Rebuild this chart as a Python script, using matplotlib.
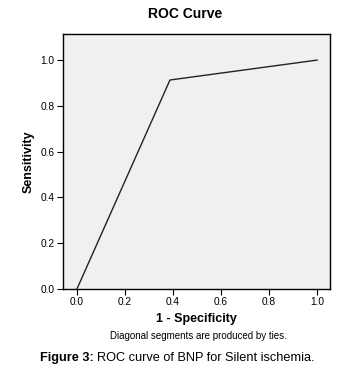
import matplotlib
matplotlib.use('Agg')
import matplotlib.pyplot as plt

plt.rcParams['font.family'] = ['Liberation Sans', 'DejaVu Sans']

# ROC points (1 - specificity, sensitivity)
fpr = [0.0, 0.3875, 1.0]
tpr = [0.0, 0.913, 1.0]
ticks = [0.0, 0.2, 0.4, 0.6, 0.8, 1.0]

fig = plt.figure(figsize=(3.54, 3.68), dpi=100)
W, H = 354, 368
ax = fig.add_axes([63 / W, 1 - 289 / H, 267 / W, 255 / H])
ax.set_facecolor('#f0f0f0')
ax.plot(fpr, tpr, color='#222222', lw=1.0)

ax.set_xlim(-0.058, 1.054)
ax.set_ylim(0, 1.114)
ax.set_xticks(ticks)
ax.set_yticks(ticks)
ax.set_xticklabels([f'{t:.1f}' for t in ticks])
ax.set_yticklabels([f'{t:.1f}' for t in ticks])
ax.tick_params(direction='out', length=4, width=0.8, labelsize=7.3, pad=2)
for s in ax.spines.values():
    s.set_linewidth(1.0)

ax.set_xlabel('1 - Specificity', fontsize=9, fontweight='bold', labelpad=4)
ax.set_ylabel('Sensitivity', fontsize=9, fontweight='bold', labelpad=4)
fig.text(185 / W, 1 - 14 / H, 'ROC Curve', fontsize=10, fontweight='bold',
         ha='center', va='center')
fig.text(198 / W, 1 - 336 / H, 'Diagonal segments are produced by ties.',
         fontsize=7, ha='center', va='center')

# caption with bold prefix
t1 = fig.text(40 / W, 1 - 358 / H, 'Figure 3:', fontsize=9.2, fontweight='bold',
              ha='left', va='center')
fig.canvas.draw()
bb = t1.get_window_extent()
fig.text(bb.x1 / W + 3 / W, 1 - 358 / H, 'ROC curve of BNP for Silent ischemia.',
         fontsize=9.2, ha='left', va='center')

fig.savefig('out.png', dpi=100)
